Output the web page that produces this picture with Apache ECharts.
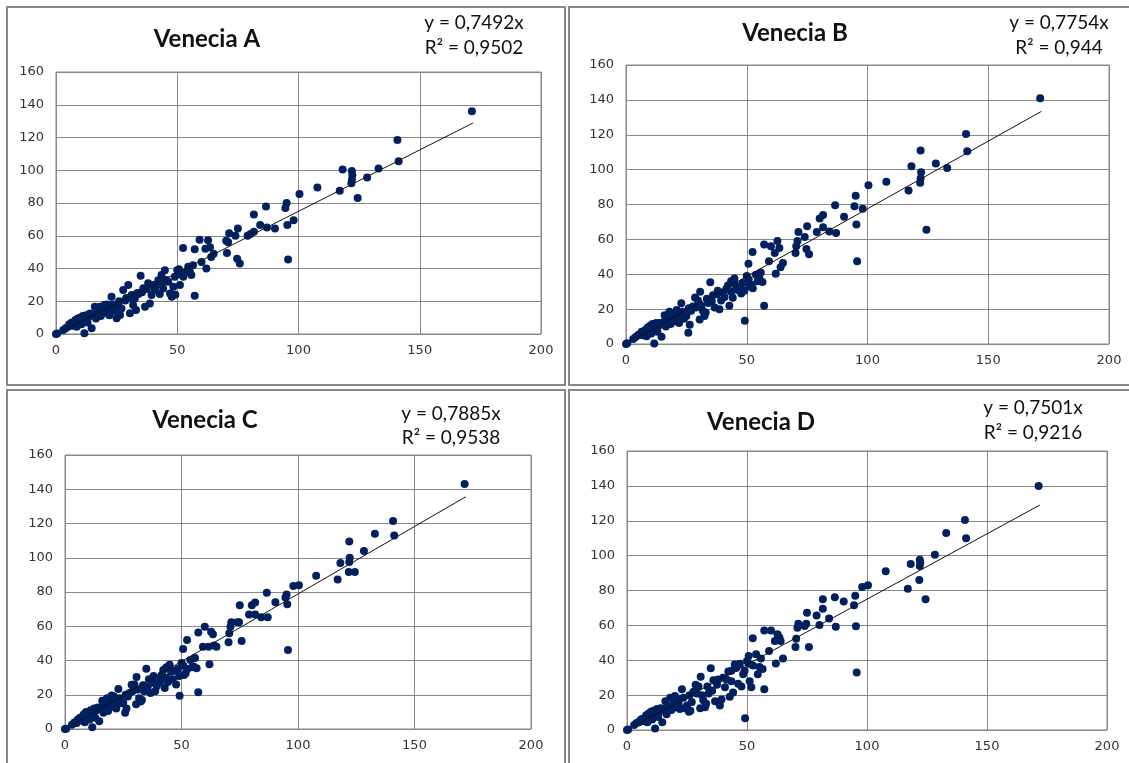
<!DOCTYPE html>
<html>
<head>
<meta charset="utf-8">
<script src="https://cdn.jsdelivr.net/npm/echarts@6/dist/echarts.min.js"></script>
<style>
  html, body { margin: 0; padding: 0; background: #fff; }
  #main { width: 1129px; height: 763px; }
</style>
</head>
<body>
<div id="main"></div>
<script>
// shared x values (measured values), one y list per station
var xVals = [
  0, 0.5, 3, 4, 5, 6, 6.5, 7.5, 8, 8.5,
  9, 9.5, 10, 10.5, 11, 11.7, 12, 12.5, 13, 14.7,
  15.5, 16, 16.5, 17.5, 18, 18.5, 19.5, 20, 20.5, 21.5,
  22.9, 23.5, 24, 25, 25.8, 26.4, 27, 27.7, 28.6, 29.8,
  30.5, 30.7, 31.2, 31.8, 32.5, 33, 34, 34.9, 35.5, 36.7,
  37.5, 38.7, 39.4, 40, 40.8, 41.5, 42.2, 42.8, 43.5, 43.5,
  44.2, 44.9, 45.5, 46.3, 47, 47.7, 48.4, 49, 50, 50.8,
  51.1, 51.8, 52.5, 53.8, 54.5, 55.2, 55.8, 56.5,
  5.5, 7, 9.8, 13.5, 14, 19, 21, 22, 26, 29, 33.5, 36, 38,
  171.5, 140.8, 141.3, 133, 128.3, 124.4, 122, 122.2, 122, 121.8,
  118.2, 117, 107.8, 100.4, 98, 95.1, 94.6, 95.4, 95.7, 90.3,
  87, 86.6, 84.2, 81.6, 81.6, 80.2, 79, 75, 75.8, 74.7,
  74, 71.4, 71, 70.5, 70.2, 65, 64, 63.5, 62.7, 62,
  61.6, 60, 59.2, 57.2, 57.2, 52.4, 50.7, 49.2
];

var yA = [
  0, 0.3, 2.5, 3.5, 4.5, 5.5, 7, 6, 8.5, 4.5,
  9.5, 7.5, 10, 6, 11, 0.5, 8.5, 11.5, 7, 3.5,
  12, 16.7, 9.5, 13.5, 16.7, 11, 15, 17.7, 13, 15.5,
  22.8, 18, 14, 9.6, 17, 11.6, 15.6, 26.8, 20.5, 29.9,
  12.6, 22, 23.8, 17.7, 21.7, 14.6, 24.5, 35.6, 25.5, 16.7,
  27.5, 18.7, 23.8, 30, 26.8, 29.9, 32.9, 24.5, 36, 30.9,
  27.8, 39, 33, 31.9, 24.8, 22.8, 28.9, 35, 39, 36.5,
  29.9, 37, 35, 38, 41, 37.8, 36, 42,
  6, 5, 8.5, 10.5, 12.5, 14, 18, 11.5, 20, 22, 25, 28, 31,
  136, 118.5, 105.5, 101, 95.5, 83, 99.5, 97, 94, 92,
  100.5, 87.5, 89.5, 85.5, 69.5, 80, 77, 66.5, 45.5, 64.5,
  65, 77.8, 66.5, 73, 62.5, 61, 60, 64.5, 43, 46,
  60, 61.5, 56, 49.5, 57, 49, 47, 53, 57.3, 40,
  52, 44, 57.5, 51.8, 23.3, 52.5, 39.5, 24
];

var yB = [
  0, 0.5, 2.8, 4, 5, 5.5, 7, 6.5, 8, 4.5,
  9.5, 7, 10.5, 6, 11.5, 0.3, 9, 12, 7, 4.2,
  12.5, 16.5, 10, 14, 18.5, 11.5, 17, 17.5, 13, 15.5,
  23.3, 18.5, 14.5, 16, 6.5, 11, 19, 21.5, 26.7, 25,
  14, 30, 22, 19, 16, 18, 23.5, 35.4, 24.5, 21,
  28.5, 20, 25, 29.5, 27, 31.5, 33.5, 22, 36, 30,
  26.5, 37.5, 33.5, 31, 33, 29, 35, 30.5, 39, 37,
  33, 34, 32, 39.7, 36, 37.8, 41, 35.5,
  5.5, 5, 9, 10.5, 12, 13.5, 19.5, 12, 20.5, 21, 26, 28, 30.5,
  141, 120.5, 110.5, 101, 103.5, 65.5, 111, 98.5, 95, 92.5,
  102, 88, 93, 91, 77.5, 85, 79, 68.5, 47.5, 73,
  63.7, 79.5, 64.5, 74, 67, 72, 64.3, 67.5, 51.5, 54.5,
  61.4, 64.3, 59, 56, 52.2, 46.4, 44, 55, 59, 40.3,
  52.2, 56, 47.4, 57, 22, 52.8, 46, 13.4
];

var yC = [
  0, 0.2, 2.5, 3.8, 3.5, 5.5, 6.5, 7, 8.5, 4,
  10, 7.5, 9.5, 5.5, 11, 1, 8, 12, 6.5, 4.5,
  12.5, 16.5, 9.5, 14, 18, 10.5, 17, 19.5, 13, 16,
  23.3, 18, 15, 15.5, 9.5, 12, 19, 21, 25.8, 26,
  14.5, 30.3, 23, 18, 16, 17, 22, 35.2, 24.5, 21,
  27, 22, 25, 29.5, 27.5, 31.5, 34.5, 24, 36, 30,
  27.5, 37.5, 33.5, 29, 34, 26, 35, 31, 38.5, 37,
  31.6, 32.6, 35, 40.3, 36, 36.5, 41.5, 35.5,
  5.5, 5, 9, 11, 12.5, 14.5, 19, 12, 20, 22, 25.5, 29, 31,
  143, 121.5, 113, 114, 104, 91.7, 109.5, 100, 97.5, 91.7,
  97, 87.3, 89.5, 84, 83.5, 78.5, 76.8, 72.9, 46.2, 74,
  65.2, 79.5, 65.2, 73.9, 66.9, 72.3, 66.9, 72.3, 51.4, 62.3,
  62.3, 62.3, 59.7, 55.9, 50.6, 48.1, 48.7, 55.3, 56.8, 37.8,
  48.1, 59.7, 48.1, 56.4, 21.5, 52, 46.7, 19.4
];

var yD = [
  0, 0.3, 2.8, 4, 4.5, 6, 6.5, 6, 8.5, 4.5,
  9.5, 7.5, 10.5, 6, 11, 0.8, 8.5, 12, 7.5, 4.5,
  12, 16.5, 9, 13.5, 18.5, 11.5, 17, 19.5, 13, 15.5,
  23.3, 18.5, 12.5, 14, 10.5, 11, 16, 22, 26, 25,
  12.5, 30.6, 20, 17, 13, 15, 21, 35.4, 22.5, 16.5,
  26, 14, 17.5, 30, 24.5, 29, 33.5, 19, 34, 28,
  21.5, 37.5, 35.5, 26.5, 38, 25, 32, 34, 39.5, 38,
  28, 24.5, 37, 43.4, 32, 36.2, 41, 35,
  5.5, 5, 8.5, 10.5, 12.5, 14, 18, 12, 20, 21, 25, 28.5, 29,
  140, 120.5, 110, 113, 100.5, 75, 97.7, 96, 94, 86,
  95.2, 81, 91, 83, 82, 77, 71.5, 59.5, 33, 73.7,
  59.2, 76.2, 64, 75, 69.5, 60.2, 65.7, 67.2, 47.6, 61,
  59.6, 61, 58.7, 52.4, 47.6, 41, 51, 53, 54.9, 38.1,
  51, 57.1, 45.3, 57.1, 23.4, 52.6, 42.5, 6.7
];

// trend line end points (x, y)
var trendX = [3, 172];
var trendA = [2.2, 128.9];
var trendB = [2.3, 133.4];
var trendC = [2.4, 135.6];
var trendD = [2.3, 129];

var titles = ['Venecia A', 'Venecia B', 'Venecia C', 'Venecia D'];
var equations = [
  ['y = 0,7492x', 'R² = 0,9502'],
  ['y = 0,7754x', 'R² = 0,944'],
  ['y = 0,7885x', 'R² = 0,9538'],
  ['y = 0,7501x', 'R² = 0,9216']
];
var xTicks = [0, 50, 100, 150, 200];
var yTicks = [0, 20, 40, 60, 80, 100, 120, 140, 160];

// layout of the four panels
var panels = [
  { ys: yA, trend: trendA, grid: [56, 72, 485, 262], title: [207, 39], eq: [474, 23, 48], box: [7, 7, 558, 378] },
  { ys: yB, trend: trendB, grid: [626, 65, 483, 279], title: [795, 33], eq: [1059, 23, 48], box: [569, 7, 572, 378] },
  { ys: yC, trend: trendC, grid: [65, 455, 466, 274], title: [205, 420], eq: [451, 414, 438], box: [7, 390, 558, 380] },
  { ys: yD, trend: trendD, grid: [627, 451, 480, 279], title: [761, 422], eq: [1033, 408, 433], box: [569, 390, 572, 380] }
];

var chart = echarts.init(document.getElementById('main'));

var grids = [], xAxes = [], yAxes = [], series = [], graphics = [];

panels.forEach(function (p, i) {
  grids.push({
    left: p.grid[0], top: p.grid[1], width: p.grid[2], height: p.grid[3],
    show: true, borderColor: '#888', borderWidth: 1, backgroundColor: '#fff',
    containLabel: false, outerBoundsMode: 'none'
  });
  xAxes.push({
    gridIndex: i, type: 'value', min: xTicks[0], max: xTicks[xTicks.length - 1], interval: 50,
    axisLine: { show: false }, axisTick: { show: false },
    splitLine: { show: true, lineStyle: { color: '#888', width: 1 } },
    axisLabel: { color: '#333', fontFamily: 'DejaVu Sans', fontSize: 13, margin: 10 }
  });
  yAxes.push({
    gridIndex: i, type: 'value', min: yTicks[0], max: yTicks[yTicks.length - 1], interval: 20,
    axisLine: { show: false }, axisTick: { show: false },
    splitLine: { show: true, lineStyle: { color: '#888', width: 1 } },
    axisLabel: { color: '#333', fontFamily: 'DejaVu Sans', fontSize: 13, margin: 12 }
  });
  series.push({
    type: 'scatter', xAxisIndex: i, yAxisIndex: i,
    symbolSize: 8, itemStyle: { color: '#002060', opacity: 1 },
    data: xVals.map(function (x, k) { return [x, p.ys[k]]; }),
    z: 2
  });
  series.push({
    type: 'line', xAxisIndex: i, yAxisIndex: i, symbol: 'none',
    lineStyle: { color: '#111', width: 1 },
    data: [[trendX[0], p.trend[0]], [trendX[1], p.trend[1]]],
    z: 3
  });

  graphics.push({
    type: 'rect', shape: { x: p.box[0], y: p.box[1], width: p.box[2], height: p.box[3] },
    style: { fill: 'none', stroke: '#888', lineWidth: 2 }, z: 10
  });
  graphics.push({
    type: 'text', x: p.title[0], y: p.title[1],
    style: { text: titles[i], font: 'bold 24px Lato', fill: '#111', textAlign: 'center', textVerticalAlign: 'middle' }
  });
  graphics.push({
    type: 'text', x: p.eq[0], y: p.eq[1],
    style: { text: equations[i][0], font: '19px Lato', fill: '#111', textAlign: 'center', textVerticalAlign: 'middle' }
  });
  graphics.push({
    type: 'text', x: p.eq[0], y: p.eq[2],
    style: { text: equations[i][1], font: '19px Lato', fill: '#111', textAlign: 'center', textVerticalAlign: 'middle' }
  });
});

var option = {
  animation: false,
  backgroundColor: '#fff',
  grid: grids,
  xAxis: xAxes,
  yAxis: yAxes,
  series: series,
  graphic: graphics
};

chart.setOption(option);
</script>
</body>
</html>
